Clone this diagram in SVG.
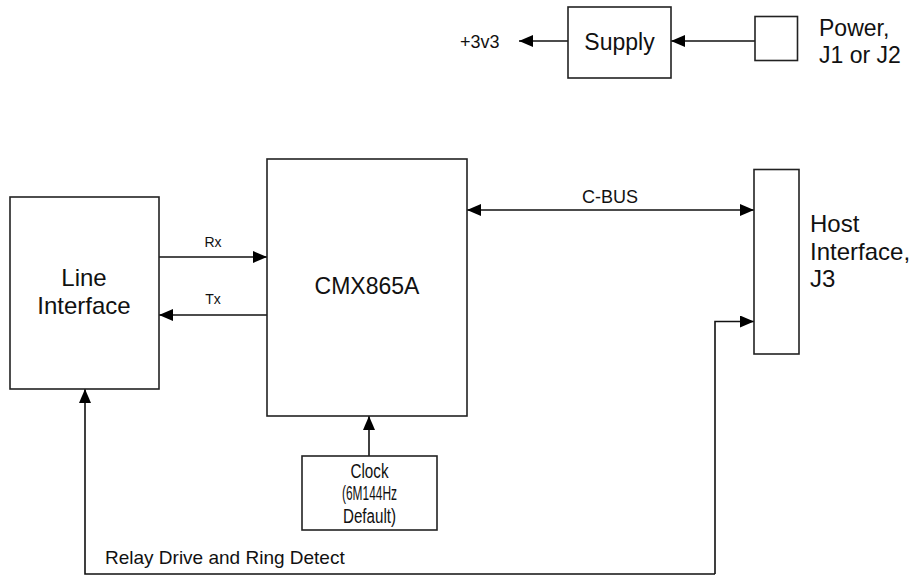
<svg xmlns="http://www.w3.org/2000/svg" width="913" height="577" viewBox="0 0 913 577">
<style>
.box{fill:#fff;stroke:#222;stroke-width:1.6}
.ln{fill:none;stroke:#111;stroke-width:1.6}
text{font-family:"Liberation Sans",Arial,sans-serif;fill:#111}
.big{font-size:23px}
.mid{font-size:18px}
.sm{font-size:14px}
</style>
<defs>
<marker id="ah" markerUnits="userSpaceOnUse" markerWidth="16" markerHeight="14" refX="14" refY="6" orient="auto">
<path d="M0,0 L14,6 L0,12 z" fill="#000"/>
</marker>
<marker id="as" markerUnits="userSpaceOnUse" markerWidth="16" markerHeight="14" refX="0" refY="6" orient="auto">
<path d="M14,0 L0,6 L14,12 z" fill="#000"/>
</marker>
</defs>
<g id="connectors">
<line class="ln" x1="568" y1="41" x2="519" y2="41" marker-end="url(#ah)"/>
<line class="ln" x1="755" y1="41" x2="671" y2="41" marker-end="url(#ah)"/>
<line class="ln" x1="159" y1="257" x2="267" y2="257" marker-end="url(#ah)"/>
<line class="ln" x1="267" y1="315" x2="159" y2="315" marker-end="url(#ah)"/>
<line class="ln" x1="467" y1="210" x2="754" y2="210" marker-start="url(#as)" marker-end="url(#ah)"/>
<line class="ln" x1="369" y1="456" x2="369" y2="416" marker-end="url(#ah)"/>
<polyline class="ln" points="715,574 715,321.5 754,321.5" marker-end="url(#ah)"/>
<polyline class="ln" points="715,574 85,574 85,389" marker-end="url(#ah)"/>
<text x="460" y="48" class="mid">+3v3</text>
<text x="213" y="247" class="sm" text-anchor="middle">Rx</text>
<text x="213" y="304" class="sm" text-anchor="middle">Tx</text>
<text x="610" y="203" class="mid" text-anchor="middle">C-BUS</text>
<text x="105" y="564" style="font-size:19px">Relay Drive and Ring Detect</text>
</g>
<g id="supply">
<rect class="box" x="568" y="7" width="103" height="71"/>
<text x="619.5" y="50" class="big" text-anchor="middle">Supply</text>
</g>
<g id="power">
<rect class="box" x="755" y="16.5" width="42.5" height="44"/>
<text x="819" y="36" class="big">Power,</text>
<text x="819" y="63" class="big">J1 or J2</text>
</g>
<g id="line-interface">
<rect class="box" x="10" y="197" width="149" height="192"/>
<text x="84" y="286" style="font-size:24px" text-anchor="middle">Line</text>
<text x="84" y="314" style="font-size:24px" text-anchor="middle">Interface</text>
</g>
<g id="cmx865a">
<rect class="box" x="267" y="159" width="200" height="257"/>
<text x="367" y="294" class="big" text-anchor="middle">CMX865A</text>
</g>
<g id="host-interface">
<rect class="box" x="754" y="169.5" width="45" height="184.5"/>
<text x="810" y="232" style="font-size:24px">Host</text>
<text x="810" y="260" style="font-size:24px">Interface,</text>
<text x="810" y="287" style="font-size:24px">J3</text>
</g>
<g id="clock">
<rect class="box" x="302" y="456" width="135" height="74"/>
<text x="369.5" y="477.5" style="font-size:19.5px" text-anchor="middle" textLength="38" lengthAdjust="spacingAndGlyphs">Clock</text>
<text x="369.5" y="500" style="font-size:19.5px" text-anchor="middle" textLength="55" lengthAdjust="spacingAndGlyphs">(6M144Hz</text>
<text x="369.5" y="522.5" style="font-size:19.5px" text-anchor="middle" textLength="53" lengthAdjust="spacingAndGlyphs">Default)</text>
</g>
</svg>
